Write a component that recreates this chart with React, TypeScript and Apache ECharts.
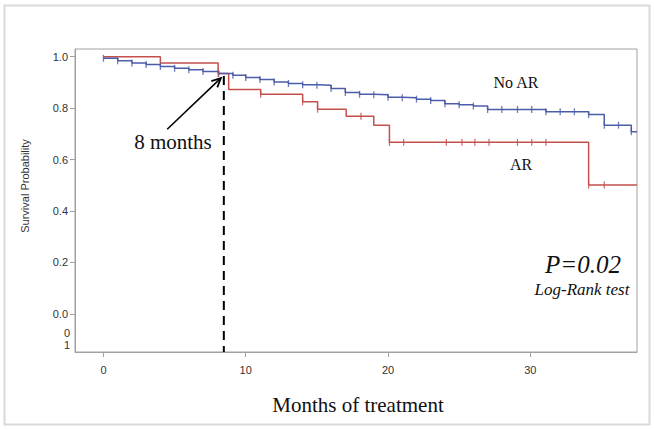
import React, { useEffect, useRef } from "react";
import * as echarts from "echarts";

// Axis ticks
const monthTicks = [0, 10, 20, 30];
const probTicks = [0, 0.2, 0.4, 0.6, 0.8, 1.0];

// No AR group (Kaplan-Meier step points: time in months, survival after step)
const noArTimes = [0, 1, 2, 3, 4, 5, 6, 7, 8.1, 9.1, 10, 11, 12, 13, 14, 15, 16, 17, 18, 19, 20, 21, 22, 23, 24, 25, 26, 27, 31.1, 34.1, 35.2, 37.1, 37.5];
const noArSurv = [0.994, 0.984, 0.976, 0.97, 0.962, 0.955, 0.949, 0.943, 0.935, 0.928, 0.919, 0.911, 0.902, 0.896, 0.891, 0.889, 0.876, 0.861, 0.854, 0.852, 0.842, 0.84, 0.835, 0.83, 0.817, 0.813, 0.808, 0.795, 0.786, 0.775, 0.734, 0.708, 0.708];
const noArCensor = [0, 1, 2, 3, 4, 5, 6, 7, 8.1, 9.1, 10, 11, 12, 13, 14, 15, 16, 17, 18, 19, 20, 21, 22, 23, 24, 25, 26, 27, 28, 29.1, 30.1, 31.1, 32.1, 33.1, 34.1, 35.2, 36.2, 37.1];

// AR group
const arTimes = [0, 4.0, 8.06, 8.8, 11.05, 14.0, 15.05, 17.06, 19.0, 20.1, 34.1, 37.5];
const arSurv = [1.0, 0.976, 0.935, 0.873, 0.854, 0.825, 0.796, 0.769, 0.734, 0.667, 0.501, 0.501];
const arCensor = [8.06, 11.05, 14.0, 15.05, 18.1, 20.1, 21.1, 24.1, 25.2, 26.1, 27.1, 29.1, 30.1, 31.1, 34.1, 35.2];

// Annotation anchors (data coordinates)
const cutoffMonth = 8.46;
const cutoffTop = 0.925;
const arrowFrom = [4.48, 0.718];
const arrowTo = [8.25, 0.917];

const X_MIN = -2;
const X_MAX = 37.5;
const Y_MIN = -0.148;
const Y_MAX = 1.03;

const BLUE = "#4b5ca8";
const RED = "#c4504c";
const SANS = "'Liberation Sans', Arial, sans-serif";
const SERIF = "'Liberation Serif', 'Times New Roman', serif";

function stepAt(times: number[], surv: number[], t: number) {
  let v = surv[0];
  for (let i = 0; i < times.length; i++) {
    if (times[i] <= t + 1e-9) v = surv[i];
  }
  return v;
}

function txt(text: string, x: number, y: number, font: string, extra: any = {}) {
  return {
    type: "text",
    x,
    y,
    silent: true,
    ...extra,
    style: {
      text,
      font,
      fill: extra.fill || "#111",
      align: extra.align || "center",
      textAlign: extra.align || "center",
      verticalAlign: "middle",
      textVerticalAlign: "middle",
    },
  };
}

export default function App() {
  const ref = useRef<HTMLDivElement>(null);
  useEffect(() => {
    const chart = echarts.init(ref.current!, null, { renderer: "svg" });
    const option: any = {
      animation: false,
      backgroundColor: "#fff",
      grid: {
        left: 75,
        top: 49,
        right: 17,
        bottom: 78,
        show: true,
        borderColor: "#a0a0a0",
        borderWidth: 1,
      },
      xAxis: {
        type: "value",
        min: X_MIN,
        max: X_MAX,
        axisLine: { show: true, onZero: false, lineStyle: { color: "#a0a0a0", width: 1 } },
        axisTick: { show: true, customValues: monthTicks, length: 5, lineStyle: { color: "#a0a0a0" } },
        axisLabel: {
          customValues: monthTicks,
          fontSize: 11,
          fontFamily: SANS,
          color: "#333",
          margin: 12,
        },
        splitLine: { show: false },
      },
      yAxis: {
        type: "value",
        min: Y_MIN,
        max: Y_MAX,
        axisLine: { show: true, onZero: false, lineStyle: { color: "#a0a0a0", width: 1 } },
        axisTick: { show: true, customValues: probTicks, length: 5, lineStyle: { color: "#a0a0a0" } },
        axisLabel: {
          customValues: probTicks,
          fontSize: 11,
          fontFamily: SANS,
          color: "#333",
          margin: 7,
          formatter: (v: number) => v.toFixed(1),
        },
        splitLine: { show: false },
      },
      series: [
        {
          name: "No AR",
          type: "line",
          step: "end",
          showSymbol: false,
          data: noArTimes.map((t, i) => [t, noArSurv[i]]),
          lineStyle: { color: BLUE, width: 1.5 },
          z: 3,
        },
        {
          name: "AR",
          type: "line",
          step: "end",
          showSymbol: false,
          data: arTimes.map((t, i) => [t, arSurv[i]]),
          lineStyle: { color: RED, width: 1.5 },
          z: 2,
        },
        {
          name: "No AR censored",
          type: "scatter",
          symbol: "rect",
          symbolSize: [1.3, 7],
          itemStyle: { color: BLUE },
          data: noArCensor.map((t) => [t, stepAt(noArTimes, noArSurv, t)]),
          z: 4,
        },
        {
          name: "AR censored",
          type: "scatter",
          symbol: "rect",
          symbolSize: [1.3, 7],
          itemStyle: { color: RED },
          data: arCensor.map((t) => [t, stepAt(arTimes, arSurv, t)]),
          z: 4,
        },
        {
          name: "cutoff",
          type: "line",
          showSymbol: false,
          data: [
            [cutoffMonth, cutoffTop],
            [cutoffMonth, Y_MIN],
          ],
          lineStyle: { color: "#000", width: 2, type: [9, 6] },
          z: 5,
        },
      ],
    };
    chart.setOption(option);

    const p0 = chart.convertToPixel({ gridIndex: 0 }, arrowFrom) as number[];
    const p1 = chart.convertToPixel({ gridIndex: 0 }, arrowTo) as number[];
    const ang = Math.atan2(p1[1] - p0[1], p1[0] - p0[0]);
    const L = 10;
    const spread = 0.45;
    const w1 = [p1[0] - L * Math.cos(ang - spread), p1[1] - L * Math.sin(ang - spread)];
    const w2 = [p1[0] - L * Math.cos(ang + spread), p1[1] - L * Math.sin(ang + spread)];

    chart.setOption({
      graphic: [
        {
          type: "rect",
          silent: true,
          shape: { x: 4.5, y: 5.5, width: 645, height: 419 },
          style: { fill: "none", stroke: "#d9d9d9", lineWidth: 2 },
        },
        {
          type: "line",
          silent: true,
          shape: { x1: p0[0], y1: p0[1], x2: p1[0], y2: p1[1] },
          style: { stroke: "#000", lineWidth: 1.6 },
        },
        {
          type: "polyline",
          silent: true,
          shape: { points: [w1, p1, w2] },
          style: { stroke: "#000", lineWidth: 1.8, fill: "none" },
        },
        txt("Survival Probability", 25, 186, `11px ${SANS}`, { rotation: Math.PI / 2, fill: "#333" }),
        txt("0", 70, 333, `11px ${SANS}`, { align: "right", fill: "#333" }),
        txt("1", 70, 345, `11px ${SANS}`, { align: "right", fill: "#333" }),
        txt("Months of treatment", 358, 405, `21px ${SERIF}`),
        txt("8 months", 173, 142, `21px ${SERIF}`),
        txt("No AR", 516, 82, `16px ${SERIF}`),
        txt("AR", 521, 164, `16px ${SERIF}`),
        txt("P=0.02", 583, 264, `italic 25px ${SERIF}`),
        txt("Log-Rank test", 582, 289, `italic 17px ${SERIF}`),
      ],
    });

    return () => chart.dispose();
  }, []);
  return (
    <div
      ref={ref}
      style={{ position: "fixed", left: 0, top: 0, width: 654, height: 430, background: "#fff" }}
    />
  );
}
